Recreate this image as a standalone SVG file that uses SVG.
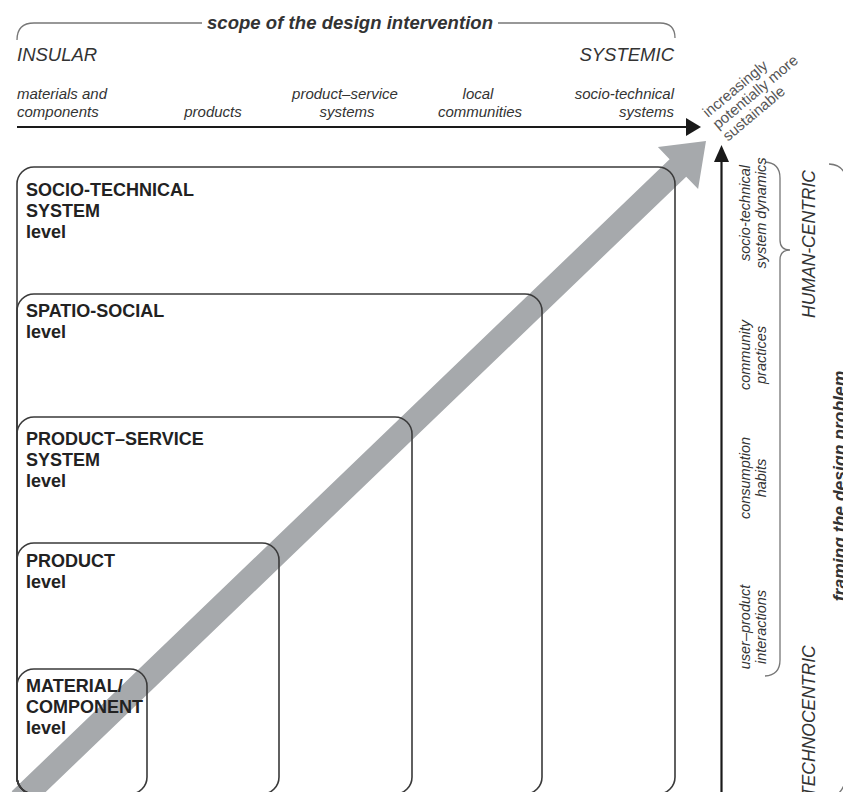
<svg xmlns="http://www.w3.org/2000/svg" width="843" height="792" viewBox="0 0 843 792">
<style>
.box{fill:none;stroke:#3a3a3a;stroke-width:1.6}
.title{font-family:"Liberation Sans",Arial,sans-serif;font-weight:bold;font-size:18px;fill:#222}
.it{font-family:"Liberation Sans",Arial,sans-serif;font-style:italic;fill:#333}
.cat{font-size:15px}
.big{font-size:18.5px}
.rot{font-size:14.5px}
.brace{fill:none;stroke:#777;stroke-width:1.3}
.axis{stroke:#1a1a1a;stroke-width:2.2;fill:none}
.head{fill:#1a1a1a}
</style>
<rect width="843" height="792" fill="#fff"/>

<g id="big-arrow">
<polygon points="11.7,791.3 669.6,159.3 657.9,147.1 706,141 698.1,188.9 686.2,176.7 28.3,808.7" fill="#a6a9ac"/>
</g>

<g id="connectors">
<path class="brace" d="M17,40 Q17,23 34,23 L202,23"/>
<path class="brace" d="M498,23 L660,23 Q675,23 675,38"/>
<line class="axis" x1="17" y1="127" x2="688" y2="127"/>
<polygon class="head" points="686,118 701,127 686,136"/>
<line class="axis" x1="721.5" y1="800" x2="721.5" y2="158"/>
<polygon class="head" points="714,162 721.5,145 729,162"/>
<path class="brace" d="M765,162 Q780,163 780,178 L780,240 Q780,250 790,250 Q780,250 780,260 L780,660 Q780,675 765,676"/>
<path class="brace" d="M829,164 Q845,165 846,180 L846,775 Q845,790 835,796"/>
</g>

<g id="header">
<text class="it big" x="350" y="29" text-anchor="middle" font-weight="bold" textLength="286" lengthAdjust="spacing">scope of the design intervention</text>
<text class="it big" x="17" y="61">INSULAR</text>
<text class="it big" x="674" y="61" text-anchor="end">SYSTEMIC</text>
<text class="it cat" x="17" y="99">materials and</text>
<text class="it cat" x="17" y="117">components</text>
<text class="it cat" x="213" y="117" text-anchor="middle">products</text>
<text class="it cat" x="345" y="99" text-anchor="middle">product–service</text>
<text class="it cat" x="347" y="117" text-anchor="middle">systems</text>
<text class="it cat" x="478" y="99" text-anchor="middle">local</text>
<text class="it cat" x="480" y="117" text-anchor="middle">communities</text>
<text class="it cat" x="674" y="99" text-anchor="end">socio-technical</text>
<text class="it cat" x="674" y="117" text-anchor="end">systems</text>
<g transform="translate(708,118) rotate(-40)" font-family="Liberation Sans, Arial, sans-serif" font-size="15" fill="#555">
<text x="0" y="0">increasingly</text>
<text x="0" y="15.5">potentially more</text>
<text x="0" y="31">sustainable</text>
</g>
</g>

<g id="box-socio-technical">
<rect class="box" x="17" y="167" width="658" height="627" rx="17"/>
<text class="title" x="26" y="196">SOCIO-TECHNICAL</text>
<text class="title" x="26" y="217">SYSTEM</text>
<text class="title" x="26" y="238">level</text>
</g>
<g id="box-spatio-social">
<rect class="box" x="17" y="294" width="525" height="500" rx="17"/>
<text class="title" x="26" y="317">SPATIO-SOCIAL</text>
<text class="title" x="26" y="338">level</text>
</g>
<g id="box-product-service">
<rect class="box" x="17" y="417" width="395" height="377" rx="17"/>
<text class="title" x="26" y="445">PRODUCT–SERVICE</text>
<text class="title" x="26" y="466">SYSTEM</text>
<text class="title" x="26" y="487">level</text>
</g>
<g id="box-product">
<rect class="box" x="17" y="543" width="262" height="251" rx="17"/>
<text class="title" x="26" y="567">PRODUCT</text>
<text class="title" x="26" y="588">level</text>
</g>
<g id="box-material">
<rect class="box" x="17" y="669" width="130" height="125" rx="17"/>
<text class="title" x="26" y="692">MATERIAL/</text>
<text class="title" x="26" y="713">COMPONENT</text>
<text class="title" x="26" y="734">level</text>
</g>

<g id="framing">
<g class="it rot" text-anchor="middle">
<text transform="translate(750,213) rotate(-90)">socio-technical</text>
<text transform="translate(766,213) rotate(-90)">system dynamics</text>
<text transform="translate(750,355) rotate(-90)">community</text>
<text transform="translate(766,355) rotate(-90)">practices</text>
<text transform="translate(750,478) rotate(-90)">consumption</text>
<text transform="translate(766,478) rotate(-90)">habits</text>
<text transform="translate(750,627) rotate(-90)">user–product</text>
<text transform="translate(766,627) rotate(-90)">interactions</text>
</g>
<text class="it" font-size="17.5" text-anchor="middle" transform="translate(815,244) rotate(-90)">HUMAN-CENTRIC</text>
<text class="it" font-size="17.5" text-anchor="start" transform="translate(815,797) rotate(-90)">TECHNOCENTRIC</text>
<text class="it" font-size="17.5" font-weight="bold" text-anchor="middle" transform="translate(846,486) rotate(-90)">framing the design problem</text>
</g>
</svg>
